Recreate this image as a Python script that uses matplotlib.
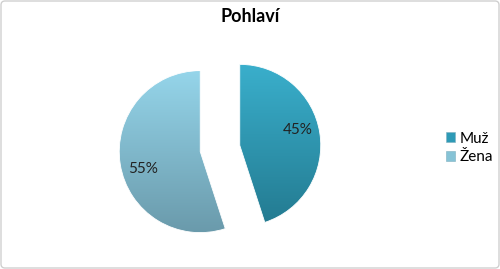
import numpy as np
import matplotlib.pyplot as plt
from matplotlib.patches import Rectangle, FancyBboxPatch

plt.rcParams['font.family'] = ['Lato', 'DejaVu Sans']

labels = ["Muž", "Žena"]
shares = [45, 55]
top_colors = ["#3AAFCC", "#95D5EA"]
bottom_colors = ["#237A90", "#6A9AAB"]
mid_colors = ["#2E9AB6", "#86C3D6"]

fig = plt.figure(figsize=(5.0, 2.69), dpi=100)
ax = fig.add_axes([0, 0, 1, 1])

# chart border
border = FancyBboxPatch((1, 1), 498, 267, boxstyle="round,pad=0,rounding_size=4",
                        fill=False, edgecolor="#D0D0D0", lw=1)
ax.add_patch(border)

radius = 81
wedges, texts, autotexts = ax.pie(shares, center=(220, 120.5), radius=radius,
                                  startangle=90, counterclock=False,
                                  explode=[20, 20], autopct='%1.0f%%',
                                  pctdistance=0.74, frame=True,
                                  textprops={'fontsize': 11, 'color': '#222222'})
ax.set_xlim(0, 500)
ax.set_ylim(0, 269)
ax.set_aspect('equal')
ax.axis('off')

# vertical gradient fill clipped to each wedge
for w, c1, c2 in zip(wedges, top_colors, bottom_colors):
    w.set_facecolor('none')
    w.set_edgecolor('#FFFFFF')
    w.set_linewidth(0.6)
    cx, cy = w.center
    grad = np.linspace(0, 1, 256)[:, None]
    a = np.array(plt.matplotlib.colors.to_rgb(c1))
    b = np.array(plt.matplotlib.colors.to_rgb(c2))
    img = a[None, None, :] * (1 - grad[:, :, None]) + b[None, None, :] * grad[:, :, None]
    img = np.repeat(img, 2, axis=1)
    im = ax.imshow(img, extent=(cx - radius, cx + radius, cy - radius, cy + radius),
                   origin='upper', zorder=0.5, aspect='auto')
    im.set_clip_path(w)

# percentage labels, nudged like the original
label_angles = [16, 196]
for t, w, ang in zip(autotexts, wedges, label_angles):
    cx, cy = w.center
    d = 0.74 * radius
    t.set_position((cx + d * np.cos(np.radians(ang)), cy + d * np.sin(np.radians(ang)) - 1))
    t.set_zorder(3)

handles = [Rectangle((0, 0), 1, 1, facecolor=c, edgecolor='#7FB0C0', lw=0.4) for c in mid_colors]
fig.legend(handles, labels, loc='center left', bbox_to_anchor=(0.891, 0.45),
           frameon=False, fontsize=11, handlelength=0.65, handleheight=0.65,
           handletextpad=0.25, labelspacing=0.3, borderaxespad=0, borderpad=0)

fig.text(0.5, (269 - 22) / 269, "Pohlaví", ha='center', va='baseline',
         fontsize=13, fontweight='bold')

fig.savefig("out.png", dpi=100)
